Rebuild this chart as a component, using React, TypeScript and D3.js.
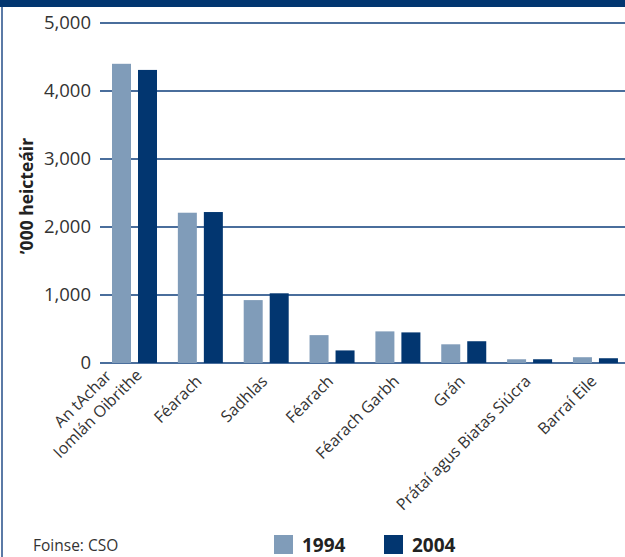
import * as d3 from "d3";

const categories: string[][] = [
  ["An tAchar", "Iomlán Oibrithe"],
  ["Féarach"],
  ["Sadhlas"],
  ["Féarach"],
  ["Féarach Garbh"],
  ["Grán"],
  ["Prátaí agus Biatas Siúcra"],
  ["Barraí Eile"],
];
const series = ["1994", "2004"];
const values1994 = [4400, 2210, 925, 410, 465, 275, 55, 85];
const values2004 = [4310, 2220, 1025, 185, 450, 320, 55, 70];
const yTicks = [0, 1000, 2000, 3000, 4000, 5000];

const colors: Record<string, string> = { "1994": "#809cb9", "2004": "#023670" };

export default function App() {
  const width = 625;
  const height = 557;
  const marginLeft = 101.6;
  const plotRight = 628.4;
  const marginTop = 23;
  const baseline = 363;
  const font = "'Open Sans', sans-serif";

  const x0 = d3.scaleBand<number>(d3.range(categories.length), [marginLeft, plotRight]);
  const x1 = d3.scaleBand<string>(series, [10.4, 55.4]).paddingInner(7 / 26);
  const y = d3.scaleLinear([0, 5000], [baseline, marginTop]);
  const fmt = d3.format(",");

  const rows = series.map((s, si) => ({
    key: s,
    values: si === 0 ? values1994 : values2004,
  }));

  return (
    <svg
      width={width}
      height={height}
      style={{ position: "absolute", left: 0, top: 0, background: "#fff" }}
      fontFamily={font}
    >
      {/* frame */}
      <rect x={0} y={0} width={width} height={7} fill="#023670" />
      <rect x={1} y={7} width={2} height={height - 7} fill="#5b7aa6" />

      {/* gridlines + tick labels */}
      {yTicks.map((t) => (
        <g key={t}>
          <line x1={100} x2={width} y1={y(t)} y2={y(t)} stroke="#4a6e9c" strokeWidth={2} />
          <text x={91} y={y(t)} dy="0.35em" textAnchor="end" fontSize={18.5} fill="#333">
            {fmt(t)}
          </text>
        </g>
      ))}

      {/* bars */}
      {rows.map((r) => (
        <g key={r.key} fill={colors[r.key]}>
          {r.values.map((v, i) => (
            <rect
              key={i}
              x={(x0(i) ?? 0) + (x1(r.key) ?? 0)}
              y={y(v)}
              width={x1.bandwidth()}
              height={baseline - y(v)}
            />
          ))}
        </g>
      ))}

      {/* category labels */}
      {categories.map((lines, i) => {
        const cx = (x0(i) ?? 0) + x0.bandwidth() / 2;
        const multi = lines.length > 1;
        return (
          <g key={i} transform={`translate(${cx - 2},378) rotate(-45)`}>
            <text
              fontSize={16}
              fill="#333"
              textAnchor={multi ? "middle" : "end"}
            >
              {lines.map((ln, j) => (
                <tspan key={j} x={multi ? -50 : 0} y={6 - (lines.length - 1 - j) * 21}>
                  {ln}
                </tspan>
              ))}
            </text>
          </g>
        );
      })}

      {/* y axis title */}
      <text
        transform="translate(33,196) rotate(-90)"
        textAnchor="middle"
        fontSize={17.5}
        fontWeight="bold"
        fill="#222"
      >
        ’000 heicteáir
      </text>

      {/* source */}
      <text x={33} y={551} fontSize={15.5} fill="#333">
        Foinse: CSO
      </text>

      {/* legend */}
      {series.map((s, i) => (
        <g key={s} transform={`translate(${274 + i * 110},535)`}>
          <rect width={19} height={19} fill={colors[s]} />
          <text x={28} y={17} fontSize={19} fontWeight="bold" fill="#222">
            {s}
          </text>
        </g>
      ))}
    </svg>
  );
}
